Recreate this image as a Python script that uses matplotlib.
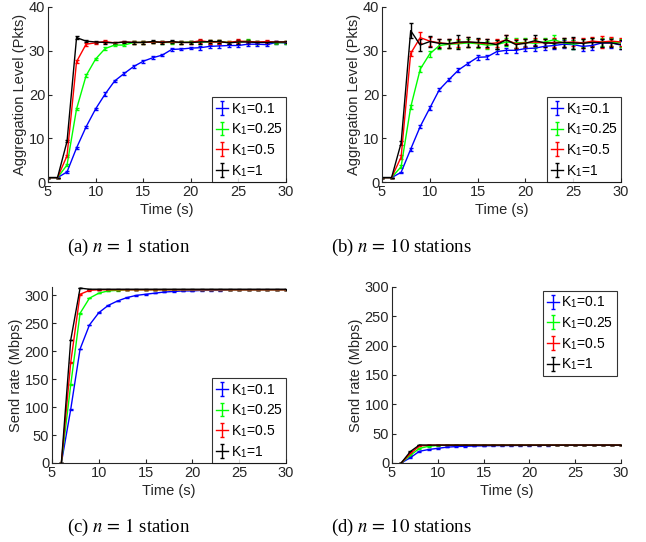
#! /usr/bin/env python3
# Aggregation level and send rate vs time for different K1 gains
import matplotlib
matplotlib.use('Agg')
import matplotlib.pyplot as plt

plt.rcParams['font.family'] = ['Liberation Sans', 'DejaVu Sans']
plt.rcParams['mathtext.fontset'] = 'stix'

# Time axis
t_agg = list(range(5, 31))
t_rate = list(range(6, 31))

labels = ['K$_\\mathregular{1}$=0.1', 'K$_\\mathregular{1}$=0.25',
          'K$_\\mathregular{1}$=0.5', 'K$_\\mathregular{1}$=1']
colors = ['#0000ff', '#00ff00', '#ff0000', '#000000']

# (a) aggregation level, n = 1
a_k01 = [1, 1, 2.3, 7.8, 12.6, 16.7, 20.1, 23.1, 24.8, 26.4, 27.6, 28.4, 29.0, 30.3, 30.4, 30.6,
         30.7, 31.0, 31.1, 31.2, 31.2, 31.5, 31.5, 31.4, 31.9, 31.8]
a_k025 = [1, 1, 3.9, 16.7, 24.3, 28.1, 30.5, 31.3, 31.3, 31.9, 31.9, 32.0, 31.9, 31.9, 31.9, 32.0,
          32.0, 32.0, 32.1, 31.9, 32.0, 32.2, 31.9, 32.0, 31.8, 31.9]
a_k05 = [1, 1, 6.0, 27.5, 31.5, 31.8, 32.1, 31.8, 32.0, 31.9, 31.9, 32.0, 32.0, 32.0, 31.9, 31.9,
         32.3, 32.0, 32.0, 31.9, 32.2, 32.1, 32.0, 32.1, 32.0, 32.0]
a_k1 = [1, 1, 9.3, 33.0, 32.2, 32.0, 31.9, 31.8, 32.0, 31.9, 31.9, 32.1, 31.9, 32.1, 31.9, 31.9,
        32.0, 32.1, 32.1, 31.8, 32.0, 32.0, 31.9, 31.9, 32.0, 32.0]
a_err = [0, 0, 0.2, 0.3, 0.3, 0.3, 0.4, 0.3, 0.3, 0.3, 0.3, 0.3, 0.3, 0.3, 0.3, 0.3,
         0.5, 0.4, 0.4, 0.3, 0.4, 0.4, 0.3, 0.3, 0.3, 0.3]

# (b) aggregation level, n = 10
b_k01 = [1, 1, 2.2, 7.5, 12.7, 16.9, 21.1, 23.4, 25.6, 27.1, 28.5, 28.6, 29.8, 30.1, 30.1, 30.5,
         30.6, 31.0, 31.2, 31.5, 31.4, 31.0, 31.2, 31.8, 31.8, 31.3]
b_k025 = [1, 1, 3.5, 17.1, 25.8, 29.3, 31.2, 31.5, 31.6, 31.8, 31.6, 31.3, 31.4, 32.0, 31.8, 31.9,
          31.7, 32.0, 32.5, 31.8, 31.5, 31.8, 32.0, 32.0, 32.0, 31.8]
b_k05 = [1, 1, 5.7, 29.4, 33.0, 32.2, 31.8, 31.6, 31.8, 32.0, 31.8, 31.6, 31.8, 32.5, 31.6, 31.8,
         32.0, 31.8, 31.9, 31.9, 32.0, 31.8, 32.2, 32.0, 32.2, 32.0]
b_k1 = [1, 1, 8.9, 34.6, 31.3, 32.1, 31.7, 31.6, 32.0, 32.0, 31.9, 31.8, 31.4, 32.5, 31.4, 31.7,
        32.3, 31.8, 31.7, 31.9, 31.8, 31.7, 31.9, 31.8, 31.8, 31.4]
b_err_k01 = [0, 0, 0.2, 0.3, 0.3, 0.4, 0.4, 0.4, 0.4, 0.4, 0.5, 0.5, 0.5, 0.6, 0.6, 0.6,
             0.7, 0.8, 0.8, 0.9, 1.0, 1.0, 1.0, 1.0, 1.2, 1.0]
b_err_k025 = [0, 0, 0.3, 0.5, 0.6, 0.7, 0.8, 0.9, 0.9, 1.0, 1.0, 1.0, 1.0, 1.0, 1.2, 1.0,
              1.0, 1.0, 1.0, 1.0, 1.0, 1.0, 1.0, 1.0, 1.0, 1.0]
b_err_k05 = [0, 0, 0.4, 0.6, 1.3, 1.0, 1.0, 1.0, 1.0, 1.2, 1.0, 1.0, 1.0, 1.0, 1.0, 1.0,
             1.0, 1.0, 1.0, 1.0, 1.0, 1.2, 1.0, 1.3, 1.0, 1.0]
b_err_k1 = [0, 0, 0.4, 1.7, 1.3, 1.2, 1.0, 1.0, 1.5, 1.2, 1.0, 1.0, 1.0, 1.2, 1.0, 1.0,
            1.3, 1.0, 1.0, 1.0, 1.3, 1.0, 1.0, 1.0, 1.0, 1.0]

# (c) send rate, n = 1
c_k01 = [0, 96, 204, 247, 269, 282, 290, 296, 300, 302, 304, 306, 307, 308, 308, 309,
         309, 309, 310, 310, 310, 310, 310, 310, 310]
c_k025 = [0, 140, 268, 295, 304, 308, 309, 310, 310, 310, 310, 310, 310, 310, 310, 310,
          310, 310, 310, 310, 310, 310, 310, 310, 310]
c_k05 = [0, 180, 302, 309, 310, 310, 310, 310, 310, 310, 310, 310, 310, 310, 310, 310,
         310, 310, 310, 310, 310, 310, 310, 310, 310]
c_k1 = [0, 220, 313, 311, 311, 311, 311, 311, 311, 311, 311, 311, 311, 311, 311, 311,
        311, 311, 311, 311, 311, 311, 311, 311, 311]
c_err = [0.5] * 25

# (d) send rate, n = 10
d_k01 = [0, 9, 20, 23, 25, 27, 28, 28.5, 29, 29.3, 29.5, 29.7, 29.8, 30, 30, 30.1,
         30.2, 30.3, 30.3, 30.4, 30.4, 30.5, 30.5, 30.5, 30.5]
d_k025 = [0, 13, 25, 28.5, 29.8, 30.3, 30.5, 30.5, 30.5, 30.5, 30.5, 30.5, 30.5, 30.5, 30.5, 30.5,
          30.5, 30.5, 30.5, 30.5, 30.5, 30.5, 30.5, 30.5, 30.5]
d_k05 = [0, 16, 29, 30.3, 30.5, 30.5, 30.5, 30.5, 30.5, 30.5, 30.5, 30.5, 30.5, 30.5, 30.5, 30.5,
         30.5, 30.5, 30.5, 30.5, 30.5, 30.5, 30.5, 30.5, 30.5]
d_k1 = [0, 19.5, 30.8, 30.5, 30.5, 30.5, 30.5, 30.5, 30.5, 30.5, 30.5, 30.5, 30.5, 30.5, 30.5, 30.5,
        30.5, 30.5, 30.5, 30.5, 30.5, 30.5, 30.5, 30.5, 30.5]
d_err = [0.4] * 25

W, H = 646, 542
fig = plt.figure(figsize=(W / 100, H / 100), dpi=100)


def add_axes(x0, y0, x1, y1):
    # pixel box (top-left origin) -> figure fraction
    return fig.add_axes([x0 / W, 1 - y1 / H, (x1 - x0) / W, (y1 - y0) / H])


def style(ax, ylim, yticks, ylabel):
    ax.set_xlim(5, 30)
    ax.set_xticks([5, 10, 15, 20, 25, 30])
    ax.set_ylim(*ylim)
    ax.set_yticks(yticks)
    ax.set_xlabel('Time (s)', fontsize=10.5, color='#262626', labelpad=3)
    ax.set_ylabel(ylabel, fontsize=10.5, color='#262626', labelpad=1)
    for s in ['top', 'right']:
        ax.spines[s].set_visible(False)
    for s in ['left', 'bottom']:
        ax.spines[s].set_color('#262626')
        ax.spines[s].set_linewidth(0.8)
    ax.tick_params(direction='in', length=3, width=0.8, labelsize=10.5,
                   colors='#262626', pad=2)


def draw(ax, t, series, errs):
    for y, e, c, lab in zip(series, errs, colors, labels):
        ax.errorbar(t, y, yerr=e, color=c, ecolor=c, lw=1.0, elinewidth=1.0,
                    capsize=1.5, capthick=1.0, label=lab)


def legend(ax, loc, pad):
    leg = ax.legend(loc=loc, fontsize=10, frameon=True, fancybox=False,
                    borderaxespad=pad, handlelength=0.9, handletextpad=0.15,
                    borderpad=0.25, labelspacing=0.35)
    leg.get_frame().set_edgecolor('black')
    leg.get_frame().set_linewidth(0.8)


ax_a = add_axes(48, 7, 286, 182)
draw(ax_a, t_agg, [a_k01, a_k025, a_k05, a_k1], [a_err] * 4)
style(ax_a, (0, 40), [0, 10, 20, 30, 40], 'Aggregation Level (Pkts)')
legend(ax_a, 'lower right', 0)

ax_b = add_axes(382, 7, 621, 182)
draw(ax_b, t_agg, [b_k01, b_k025, b_k05, b_k1], [b_err_k01, b_err_k025, b_err_k05, b_err_k1])
style(ax_b, (0, 40), [0, 10, 20, 30, 40], 'Aggregation Level (Pkts)')
legend(ax_b, 'lower right', 0)

ax_c = add_axes(52, 287, 286, 463)
draw(ax_c, t_rate, [c_k01, c_k025, c_k05, c_k1], [c_err] * 4)
style(ax_c, (0, 315), [0, 50, 100, 150, 200, 250, 300], 'Send rate (Mbps)')
legend(ax_c, 'lower right', 0)

ax_d = add_axes(392, 287, 621, 463)
draw(ax_d, t_rate, [d_k01, d_k025, d_k05, d_k1], [d_err] * 4)
style(ax_d, (0, 300), [0, 50, 100, 150, 200, 250, 300], 'Send rate (Mbps)')
legend(ax_d, 'upper right', 0.3)

# Sub-captions
cap = dict(ha='center', va='center', fontsize=13.5, family='Liberation Serif')
fig.text(129 / W, 1 - 247 / H, '(a) $n\\,=\\,1$ station', **cap)
fig.text(401 / W, 1 - 247 / H, '(b) $n\\,=\\,10$ stations', **cap)
fig.text(129 / W, 1 - 527 / H, '(c) $n\\,=\\,1$ station', **cap)
fig.text(401 / W, 1 - 527 / H, '(d) $n\\,=\\,10$ stations', **cap)

fig.savefig('out.png', dpi=100)
